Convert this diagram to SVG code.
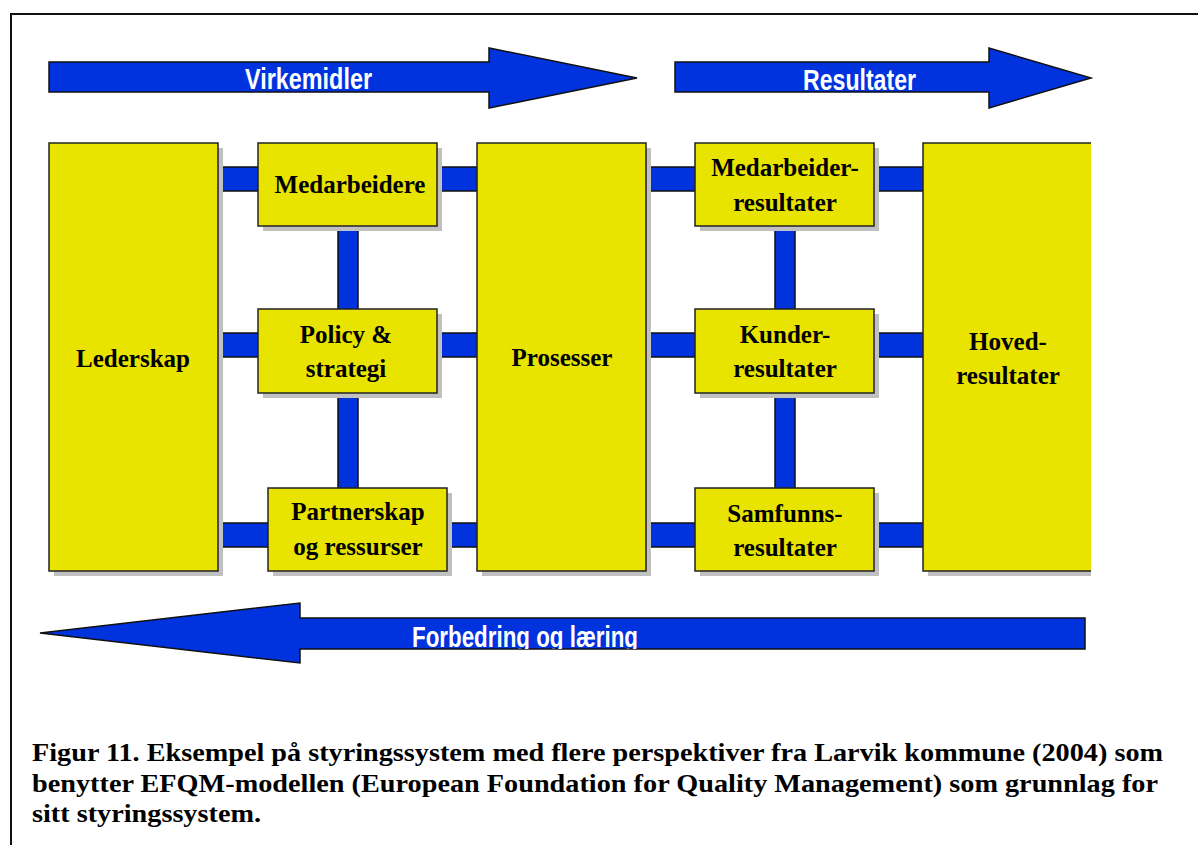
<svg xmlns="http://www.w3.org/2000/svg" width="1198" height="845" viewBox="0 0 1198 845">
<style>
.box{fill:#e8e400;stroke:#222;stroke-width:1.5}
.sh{fill:#c0c0c0}
.bar{fill:#0033dd;stroke:#111;stroke-width:1.5}
.arr{fill:#0033dd;stroke:#111;stroke-width:1.5;stroke-linejoin:miter}
.lbl{font-family:"Liberation Serif","Times New Roman",serif;font-weight:bold;font-size:25px;fill:#000;text-anchor:middle}
.alb{font-family:"Liberation Sans",Arial,sans-serif;font-weight:bold;font-size:29px;fill:#fff}
.cap{font-family:"Liberation Serif","DejaVu Serif",serif;font-weight:bold;font-size:25px;fill:#000}
</style>
<defs>
<clipPath id="fclip"><rect x="300" y="618" width="785" height="31"/></clipPath>
</defs>
<rect x="0" y="0" width="1198" height="845" fill="#fff"/>
<path d="M11,845 V14 H1198" fill="none" stroke="#111" stroke-width="2"/>

<g id="arrow-virkemidler">
<path class="arr" d="M49,62 H489 V48 L637,78 L489,108 V92 H49 Z"/>
<text class="alb" x="245" y="89" textLength="127" lengthAdjust="spacingAndGlyphs">Virkemidler</text>
</g>
<g id="arrow-resultater">
<path class="arr" d="M675,62 H989 V48 L1091,78 L989,108 V92 H675 Z"/>
<text class="alb" x="803" y="90" textLength="113" lengthAdjust="spacingAndGlyphs">Resultater</text>
</g>
<g id="arrow-forbedring">
<path class="arr" d="M1085,618 H300 V603 L40,633 L300,663 V649 H1085 Z"/>
<text class="alb" x="412" y="647" textLength="226" lengthAdjust="spacingAndGlyphs" clip-path="url(#fclip)">Forbedring og læring</text>
</g>

<g id="connectors">
<rect class="bar" x="214" y="167" width="46" height="24"/>
<rect class="bar" x="214" y="333" width="46" height="24"/>
<rect class="bar" x="214" y="523" width="56" height="24"/>
<rect class="bar" x="435" y="167" width="44" height="24"/>
<rect class="bar" x="435" y="333" width="44" height="24"/>
<rect class="bar" x="445" y="523" width="34" height="24"/>
<rect class="bar" x="644" y="167" width="53" height="24"/>
<rect class="bar" x="644" y="333" width="53" height="24"/>
<rect class="bar" x="644" y="523" width="53" height="24"/>
<rect class="bar" x="872" y="167" width="53" height="24"/>
<rect class="bar" x="872" y="333" width="53" height="24"/>
<rect class="bar" x="872" y="523" width="53" height="24"/>
<rect class="bar" x="338" y="224" width="20" height="87"/>
<rect class="bar" x="338" y="391" width="20" height="99"/>
<rect class="bar" x="775" y="224" width="20" height="87"/>
<rect class="bar" x="775" y="391" width="20" height="99"/>
</g>

<g id="lederskap">
<rect class="sh" x="54" y="148" width="169" height="428"/>
<rect class="box" x="49" y="143" width="169" height="428"/>
<text class="lbl" x="133" y="367">Lederskap</text>
</g>
<g id="medarbeidere">
<rect class="sh" x="263" y="148" width="179" height="83"/>
<rect class="box" x="258" y="143" width="179" height="83"/>
<text class="lbl" x="350" y="193">Medarbeidere</text>
</g>
<g id="policy">
<rect class="sh" x="263" y="314" width="179" height="84"/>
<rect class="box" x="258" y="309" width="179" height="84"/>
<text class="lbl" x="346" y="343">Policy &amp;</text>
<text class="lbl" x="346" y="377">strategi</text>
</g>
<g id="partnerskap">
<rect class="sh" x="273" y="493" width="179" height="83"/>
<rect class="box" x="268" y="488" width="179" height="83"/>
<text class="lbl" x="358" y="520">Partnerskap</text>
<text class="lbl" x="358" y="555">og ressurser</text>
</g>
<g id="prosesser">
<rect class="sh" x="482" y="148" width="169" height="428"/>
<rect class="box" x="477" y="143" width="169" height="428"/>
<text class="lbl" x="562" y="366">Prosesser</text>
</g>
<g id="medarbeiderresultater">
<rect class="sh" x="700" y="148" width="179" height="83"/>
<rect class="box" x="695" y="143" width="179" height="83"/>
<text class="lbl" x="785" y="176">Medarbeider-</text>
<text class="lbl" x="785" y="211">resultater</text>
</g>
<g id="kunderesultater">
<rect class="sh" x="700" y="314" width="179" height="84"/>
<rect class="box" x="695" y="309" width="179" height="84"/>
<text class="lbl" x="785" y="343">Kunder-</text>
<text class="lbl" x="785" y="377">resultater</text>
</g>
<g id="samfunnsresultater">
<rect class="sh" x="700" y="493" width="179" height="83"/>
<rect class="box" x="695" y="488" width="179" height="83"/>
<text class="lbl" x="785" y="522">Samfunns-</text>
<text class="lbl" x="785" y="556">resultater</text>
</g>
<g id="hovedresultater">
<rect class="sh" x="928" y="148" width="163" height="428"/>
<rect x="923" y="143" width="168" height="428" fill="#e8e400"/>
<path d="M1091,143 H923 V571 H1091" fill="none" stroke="#222" stroke-width="1.5"/>
<text class="lbl" x="1008" y="350">Hoved-</text>
<text class="lbl" x="1008" y="384">resultater</text>
</g>

<g id="caption">
<text class="cap" x="32" y="761" textLength="1131" lengthAdjust="spacingAndGlyphs">Figur 11. Eksempel på styringssystem med flere perspektiver fra Larvik kommune (2004) som</text>
<text class="cap" x="32" y="792" textLength="1126" lengthAdjust="spacingAndGlyphs">benytter EFQM-modellen (European Foundation for Quality Management) som grunnlag for</text>
<text class="cap" x="32" y="822" textLength="229" lengthAdjust="spacingAndGlyphs">sitt styringssystem.</text>
</g>
</svg>
